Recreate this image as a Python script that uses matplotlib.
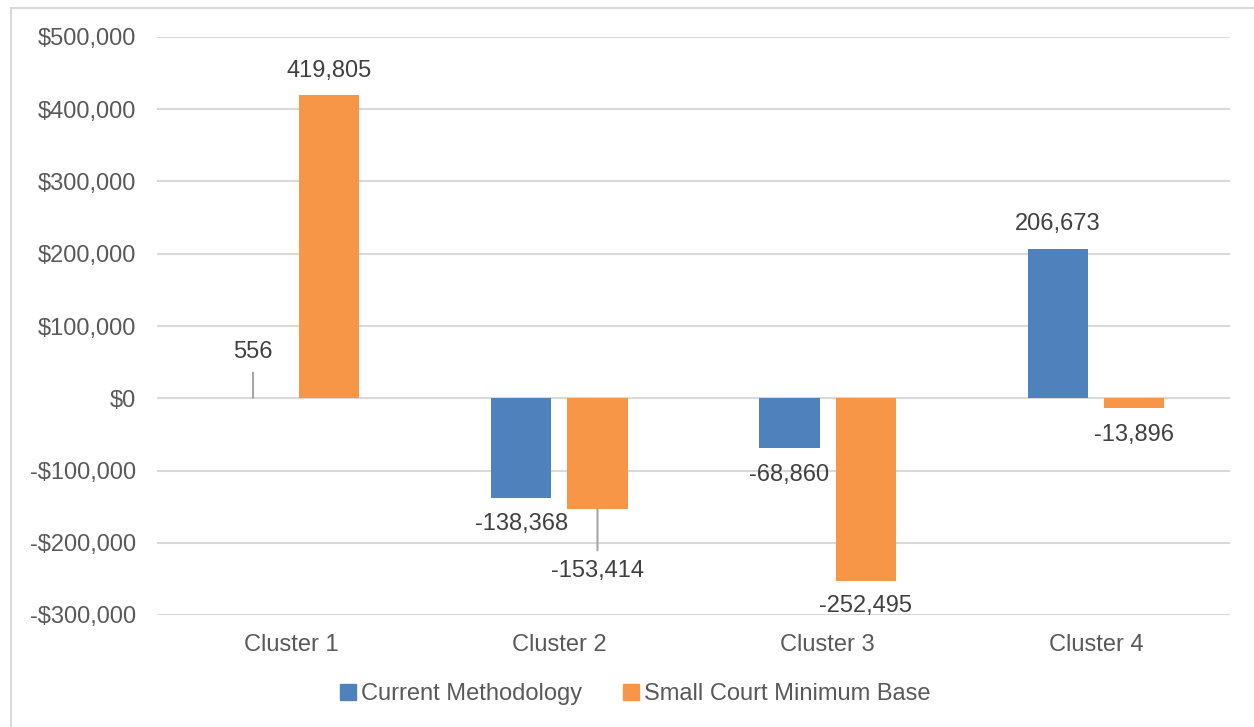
import matplotlib
matplotlib.use("Agg")
import matplotlib.pyplot as plt
import matplotlib.patches as mpatches
from matplotlib.ticker import FuncFormatter
import numpy as np

categories = ["Cluster 1", "Cluster 2", "Cluster 3", "Cluster 4"]
series_names = ["Current Methodology", "Small Court Minimum Base"]
current = [556, -138368, -68860, 206673]
small_court = [419805, -153414, -252495, -13896]
y_ticks = [-300000, -200000, -100000, 0, 100000, 200000, 300000, 400000, 500000]

BLUE = "#4F81BD"
ORANGE = "#F79646"
GRID = "#D9D9D9"
TICK = "#595959"
LABEL = "#404040"

plt.rcParams['font.family'] = ['Liberation Sans', 'DejaVu Sans']

fig = plt.figure(figsize=(12.54, 7.27), dpi=100)
ax = fig.add_axes([157/1254, 112/727, (1230-157)/1254, (615-37)/727])

# figure border
fig.patches.append(mpatches.Rectangle((11/1254, -0.1), 1.2, 1 - 8/727 + 0.1,
                                      transform=fig.transFigure, fill=False,
                                      edgecolor=GRID, linewidth=1.5))

x = np.arange(len(categories))
off = 0.142
w = 0.224
b1 = ax.bar(x - off, current, w, color=BLUE, zorder=3)
b2 = ax.bar(x + off, small_court, w, color=ORANGE, zorder=3)

ax.set_xlim(-0.5, 3.5)
ax.set_ylim(-300000, 500000)
ax.set_yticks(y_ticks)
ax.yaxis.set_major_formatter(FuncFormatter(lambda v, p: ("-$" if v < 0 else "$") + f"{abs(int(v)):,}"))
ax.set_xticks(x)
ax.set_xticklabels(categories)
ax.tick_params(axis='both', length=0, labelsize=17, colors=TICK)
ax.tick_params(axis='y', pad=15)
ax.tick_params(axis='x', pad=14)
for s in ax.spines.values():
    s.set_visible(False)
ax.grid(axis='y', color=GRID, linewidth=1.5, zorder=0)
ax.set_axisbelow(True)

# data labels: (pixel offsets)
offsets_cur = [(0, 46, True), (0, -26, False), (0, -27, False), (0, 25, False)]
offsets_sc = [(0, 24, False), (0, -62, True), (0, -25, False), (0, -27, False)]

def label(xpos, val, dx, dy, leader):
    kw = {}
    if leader:
        kw['arrowprops'] = dict(arrowstyle='-', color="#A6A6A6", lw=1.5,
                                shrinkA=5, shrinkB=0)
    ax.annotate(f"{val:,}", xy=(xpos, val), xytext=(dx, dy),
                textcoords='offset pixels', ha='center', va='center',
                fontsize=17, color=LABEL, zorder=5, **kw)

for i in range(len(categories)):
    dx, dy, ld = offsets_cur[i]
    label(x[i] - off, current[i], dx, dy, ld)
    dx, dy, ld = offsets_sc[i]
    label(x[i] + off, small_court[i], dx, dy, ld)

handles = [mpatches.Patch(color=BLUE), mpatches.Patch(color=ORANGE)]
fig.legend(handles, series_names, loc='center', bbox_to_anchor=(635/1254, 1 - 694/727),
           ncol=2, frameon=False, fontsize=17, labelcolor=TICK,
           handlelength=0.67, handleheight=0.67, handletextpad=0.2,
           columnspacing=1.75, borderpad=0)

fig.savefig("out.png", dpi=100)
